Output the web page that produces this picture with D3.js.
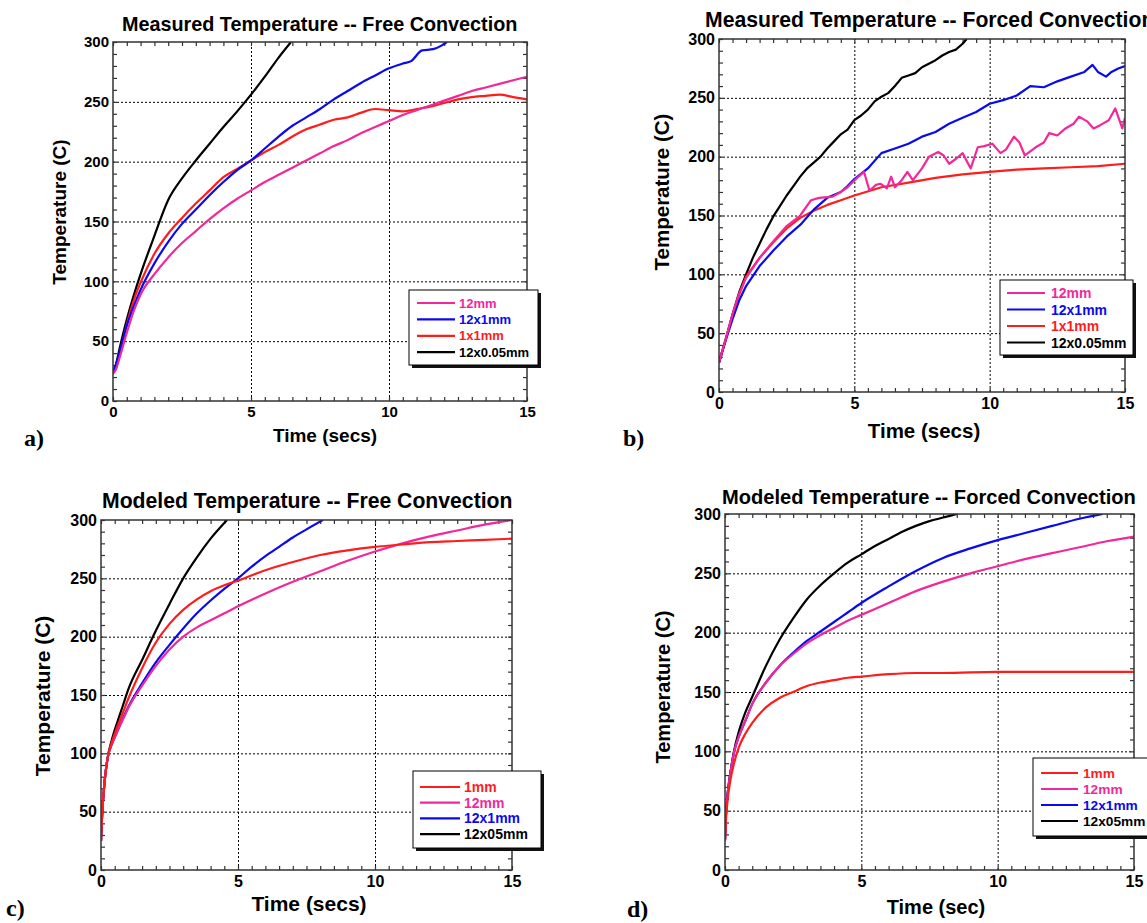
<!DOCTYPE html>
<html>
<head>
<meta charset="utf-8">
<script src="https://d3js.org/d3.v7.min.js"></script>
<style>
  body { margin: 0; background: #fff; }
  svg { display: block; }
  text { font-family: "Liberation Sans", Arial, sans-serif; font-weight: bold; }
</style>
</head>
<body>
<div id="chart"></div>
<script>
// ---- a) measured, free convection ----
var aPinkT = [0, 0.1, 0.25, 0.5, 0.75, 1, 1.5, 2, 2.5, 3, 3.5, 4, 4.5, 5, 5.5, 6, 6.5, 7, 7.5, 8, 8.5, 9, 9.5, 10, 10.5, 11, 11.5, 12, 12.5, 13, 13.5, 14, 14.5, 15]
var aPinkV = [23, 26, 37, 57, 75, 89, 106, 120, 132, 142, 152, 161, 169, 176, 183, 189, 195, 201, 207, 213, 218, 224, 229, 234, 239, 243, 247, 251, 255, 259, 262, 265, 268, 271]
var aBlueT = [0, 0.1, 0.25, 0.5, 0.75, 1, 1.5, 2, 2.5, 3, 3.5, 4, 4.5, 5, 5.5, 6, 6.5, 7, 7.5, 8, 8.5, 9, 9.5, 10, 10.5, 10.8, 11.2, 11.6, 11.9, 12.1]
var aBlueV = [25, 30, 42, 63, 79, 93, 115, 133, 148, 160, 172, 183, 193, 201, 211, 221, 230, 237, 244, 252, 259, 266, 272, 278, 282, 284, 293, 294, 297, 300]
var aRedT = [0, 0.1, 0.25, 0.5, 0.75, 1, 1.5, 2, 2.5, 3, 3.5, 4, 4.5, 5, 5.5, 6, 6.5, 7, 7.5, 8, 8.5, 9, 9.5, 10, 10.5, 11, 11.5, 12, 12.5, 13, 13.5, 14, 14.5, 15]
var aRedV = [23, 27, 40, 64, 84, 99, 123, 140, 153, 165, 176, 187, 194, 201, 208, 214, 221, 227, 231, 235, 237, 241, 244, 243, 242, 244, 246, 249, 252, 254, 255, 256, 254, 252]
var aBlackT = [0, 0.1, 0.25, 0.5, 0.75, 1, 1.5, 2, 2.5, 3, 3.5, 4, 4.5, 5, 5.5, 6, 6.45]
var aBlackV = [25, 30, 45, 68, 88, 106, 138, 168, 186, 201, 215, 229, 242, 256, 271, 287, 300]

// ---- b) measured, forced convection ----
var bPinkT = [0, 0.25, 0.5, 0.75, 1, 1.5, 2, 2.5, 3, 3.4, 3.7, 4.2, 4.5, 4.75, 5.1, 5.36, 5.56, 5.8, 5.96, 6.2, 6.36, 6.5, 6.75, 6.96, 7.16, 7.5, 7.76, 8.1, 8.3, 8.5, 8.75, 9.0, 9.3, 9.56, 9.8, 10.1, 10.4, 10.6, 10.9, 11.1, 11.3, 11.7, 12.0, 12.2, 12.5, 12.8, 13.1, 13.3, 13.6, 13.84, 14.1, 14.4, 14.64, 14.9, 15]
var bPinkV = [25, 45, 66, 84, 97, 114, 128, 141, 150, 163, 165, 166, 170, 174, 182, 187, 171, 176, 177, 173, 183, 174, 180, 187, 180, 190, 200, 204, 201, 194, 198, 203, 190, 208, 209, 211, 203, 206, 217, 212, 201, 208, 212, 220, 218, 224, 228, 234, 230, 224, 227, 231, 241, 224, 233]
var bBlueT = [0, 0.25, 0.5, 0.75, 1, 1.5, 2, 2.5, 3, 3.5, 4, 4.5, 4.75, 5, 5.5, 6, 6.5, 7, 7.5, 8, 8.5, 9, 9.5, 10, 10.5, 11, 11.5, 12, 12.5, 13, 13.5, 13.8, 14, 14.3, 14.5, 14.75, 15]
var bBlueV = [25, 44, 62, 78, 90, 107, 120, 132, 142, 155, 165, 170, 175, 181, 190, 203, 207, 211, 217, 221, 228, 233, 238, 245, 248, 252, 260, 259, 264, 268, 272, 278, 272, 268, 272, 275, 277]
var bRedT = [0, 0.25, 0.5, 0.75, 1, 1.5, 2, 2.5, 3, 3.5, 4, 4.5, 5, 6, 7, 8, 9, 10, 11, 12, 13, 14, 15]
var bRedV = [25, 45, 65, 83, 98, 114, 127, 139, 148, 154, 159, 163, 167, 174, 178, 182, 185, 187, 189, 190, 191, 192, 194]
var bBlackT = [0, 0.25, 0.5, 0.75, 1, 1.25, 1.5, 1.75, 2, 2.25, 2.5, 2.75, 3, 3.25, 3.5, 3.75, 4, 4.25, 4.5, 4.75, 5, 5.25, 5.5, 5.75, 6, 6.25, 6.5, 6.75, 7, 7.25, 7.5, 7.75, 8, 8.25, 8.5, 8.75, 9, 9.15]
var bBlackV = [25, 45, 66, 85, 100, 114, 126, 138, 149, 158, 167, 175, 183, 190, 195, 200, 207, 213, 219, 223, 231, 235, 240, 247, 251, 254, 260, 267, 269, 271, 276, 279, 282, 286, 289, 291, 296, 300]

// ---- c) modeled, free convection ----
var cRedT = [0, 0.03, 0.06, 0.1, 0.15, 0.25, 0.4, 0.6, 0.8, 1, 1.5, 2, 2.5, 3, 3.5, 4, 4.5, 5, 6, 7, 8, 9, 10, 11, 12, 13, 14, 15]
var cRedV = [25, 42, 55, 67, 80, 97, 110, 123, 135, 147, 173, 195, 211, 223, 232, 239, 244, 248, 257, 264, 270, 274, 277, 279, 281, 282, 283, 284]
var cPinkT = [0, 0.03, 0.06, 0.1, 0.15, 0.25, 0.4, 0.6, 0.8, 1, 1.5, 2, 2.5, 3, 3.5, 4, 4.5, 5, 6, 7, 8, 9, 10, 11, 12, 13, 14, 15]
var cPinkV = [25, 42, 55, 67, 80, 97, 108, 119, 129, 139, 158, 175, 189, 200, 208, 214, 220, 226, 237, 247, 256, 265, 273, 280, 286, 291, 296, 300]
var cBlueT = [0, 0.03, 0.06, 0.1, 0.15, 0.25, 0.4, 0.6, 0.8, 1, 1.5, 2, 2.5, 3, 3.5, 4, 4.5, 5, 5.5, 6, 6.5, 7, 7.5, 8.1]
var cBlueV = [25, 42, 55, 67, 80, 97, 108, 119, 130, 140, 160, 178, 193, 207, 220, 231, 241, 250, 260, 269, 277, 285, 292, 300]
var cBlackT = [0, 0.03, 0.06, 0.1, 0.15, 0.25, 0.4, 0.6, 0.8, 1, 1.5, 2, 2.5, 3, 3.5, 4, 4.6]
var cBlackV = [25, 42, 55, 67, 80, 97, 112, 127, 141, 155, 180, 205, 228, 250, 268, 284, 300]

// ---- d) modeled, forced convection ----
var dRedT = [0, 0.03, 0.06, 0.1, 0.2, 0.33, 0.5, 0.75, 1, 1.5, 2, 2.5, 3, 3.5, 4, 4.5, 5, 6, 7, 8, 10, 12, 15]
var dRedV = [25, 40, 50, 60, 76, 90, 103, 115, 124, 137, 145, 150, 155, 158, 160, 162, 163, 165, 166, 166, 167, 167, 167]
var dPinkT = [0, 0.03, 0.06, 0.1, 0.2, 0.33, 0.5, 0.75, 1, 1.5, 2, 2.5, 3, 3.5, 4, 4.5, 5, 6, 7, 8, 9, 10, 11, 12, 13, 14, 15]
var dPinkV = [25, 45, 55, 65, 82, 99, 112, 126, 140, 158, 172, 182, 191, 198, 204, 210, 215, 225, 235, 243, 250, 256, 262, 267, 272, 277, 281]
var dBlueT = [0, 0.03, 0.06, 0.1, 0.2, 0.33, 0.5, 0.75, 1, 1.5, 2, 2.5, 3, 3.5, 4, 4.5, 5, 6, 7, 8, 9, 10, 11, 12, 13, 13.85]
var dBlueV = [25, 45, 55, 65, 82, 99, 112, 126, 140, 158, 172, 183, 193, 201, 209, 217, 225, 239, 252, 263, 271, 278, 284, 290, 296, 300]
var dBlackT = [0, 0.03, 0.06, 0.1, 0.2, 0.33, 0.5, 0.75, 1, 1.5, 2, 2.5, 3, 3.5, 4, 4.5, 5, 5.5, 6, 6.5, 7, 7.5, 8, 8.5]
var dBlackV = [25, 45, 55, 65, 82, 100, 116, 133, 146, 172, 194, 212, 228, 240, 250, 259, 266, 273, 279, 285, 290, 294, 297, 300]

var xMajor = [0, 5, 10, 15]
var yMajor = [0, 50, 100, 150, 200, 250, 300]

var PINK = '#f2289a', BLUE = '#0a0aee', RED = '#ff1c1c', BLACK = '#000'

function pairs(t, v) {
    return t.map(function(d, i) { return [d, v[i]]; });
}

var svg = d3.select('#chart').append('svg')
    .attr('width', 1147)
    .attr('height', 923);

function drawPanel(p) {
    var x = d3.scaleLinear().domain([0, 15]).range([p.left, p.right]),
        y = d3.scaleLinear().domain([0, 300]).range([p.bottom, p.top]);
    var w = p.right - p.left,
        h = p.bottom - p.top;
    var g = svg.append('g');

    // dotted grid at the major ticks
    g.append('g')
        .attr('transform', 'translate(0,' + p.bottom + ')')
        .call(d3.axisBottom(x).tickValues([5, 10]).tickSize(-h).tickFormat(''))
        .call(function(s) { s.select('.domain').remove(); })
        .selectAll('line').attr('stroke', '#000').attr('stroke-dasharray', '2,2');
    g.append('g')
        .attr('transform', 'translate(' + p.left + ',0)')
        .call(d3.axisLeft(y).tickValues([50, 100, 150, 200, 250]).tickSize(-w).tickFormat(''))
        .call(function(s) { s.select('.domain').remove(); })
        .selectAll('line').attr('stroke', '#000').attr('stroke-dasharray', '2,2');

    // minor ticks, inward, on all four sides
    var xMinor = d3.range(0, 15.001, 0.5),
        yMinor = d3.range(0, 300.001, 10);
    var sides = [
        [d3.axisBottom(x).tickValues(xMinor), 'translate(0,' + p.bottom + ')'],
        [d3.axisTop(x).tickValues(xMinor), 'translate(0,' + p.top + ')'],
        [d3.axisLeft(y).tickValues(yMinor), 'translate(' + p.left + ',0)'],
        [d3.axisRight(y).tickValues(yMinor), 'translate(' + p.right + ',0)']
    ];
    sides.forEach(function(s) {
        g.append('g')
            .attr('transform', s[1])
            .call(s[0].tickSize(-4).tickFormat(''))
            .call(function(a) { a.select('.domain').remove(); })
            .selectAll('line').attr('stroke', '#333').attr('stroke-width', 1.2);
    });

    // curves
    var clipId = 'clip-' + p.name;
    svg.append('clipPath').attr('id', clipId)
        .append('rect').attr('x', p.left).attr('y', p.top).attr('width', w).attr('height', h);
    var line = d3.line()
        .x(function(d) { return x(d[0]); })
        .y(function(d) { return y(d[1]); })
        .curve(p.smooth ? d3.curveMonotoneX : d3.curveLinear);
    var drawOrder = p.series.slice().reverse();
    g.append('g').attr('clip-path', 'url(#' + clipId + ')')
        .selectAll('path').data(drawOrder).enter().append('path')
        .attr('d', function(s) { return line(pairs(s.t, s.v)); })
        .attr('fill', 'none')
        .attr('stroke', function(s) { return s.color; })
        .attr('stroke-width', 2.2)
        .attr('stroke-linejoin', 'round');

    // frame
    g.append('rect')
        .attr('x', p.left).attr('y', p.top).attr('width', w).attr('height', h)
        .attr('fill', 'none').attr('stroke', '#333').attr('stroke-width', 1.5);

    // tick labels
    var xl = g.append('g')
        .attr('transform', 'translate(0,' + p.bottom + ')')
        .call(d3.axisBottom(x).tickValues(xMajor).tickSize(0).tickPadding(p.tick * 0.35));
    xl.select('.domain').remove();
    xl.selectAll('text').attr('font-size', p.tick).attr('fill', '#000')
        .attr('font-family', '"Liberation Sans", Arial, sans-serif').attr('font-weight', 'bold');
    var yl = g.append('g')
        .attr('transform', 'translate(' + p.left + ',0)')
        .call(d3.axisLeft(y).tickValues(yMajor).tickSize(0).tickPadding(4));
    yl.select('.domain').remove();
    yl.selectAll('text').attr('font-size', p.tick).attr('fill', '#000')
        .attr('font-family', '"Liberation Sans", Arial, sans-serif').attr('font-weight', 'bold');

    // titles
    g.append('text').attr('x', p.titleX).attr('y', p.titleY)
        .attr('font-size', p.titleSize).text(p.title);
    g.append('text').attr('x', p.xTitleX).attr('y', p.xTitleY)
        .attr('text-anchor', 'middle').attr('font-size', p.axisSize).text(p.xTitle);
    g.append('text')
        .attr('transform', 'translate(' + p.yTitleX + ',' + p.yTitleY + ') rotate(-90)')
        .attr('dy', '0.35em')
        .attr('text-anchor', 'middle').attr('font-size', p.axisSize).text('Temperature (C)');
    g.append('text').attr('x', p.labX).attr('y', p.labY)
        .style('font-family', '"Liberation Serif", "Times New Roman", serif')
        .attr('font-size', 24).text(p.name + ')');

    // legend with drop shadow
    var L = p.legend;
    g.append('rect').attr('x', L.x + 3).attr('y', L.y + 3).attr('width', L.w).attr('height', L.h)
        .attr('fill', '#111');
    g.append('rect').attr('x', L.x).attr('y', L.y).attr('width', L.w).attr('height', L.h)
        .attr('fill', '#fff').attr('stroke', '#000').attr('stroke-width', 1);
    var rows = g.selectAll('g.leg').data(p.series).enter().append('g')
        .attr('transform', function(d, i) { return 'translate(0,' + (L.row0 + i * L.step) + ')'; });
    rows.append('line')
        .attr('x1', L.lx1).attr('x2', L.lx2)
        .attr('stroke', function(s) { return s.color; }).attr('stroke-width', 2.2);
    rows.append('text')
        .attr('x', L.tx).attr('dy', '0.36em')
        .attr('font-size', L.size)
        .attr('fill', function(s) { return s.color; })
        .text(function(s) { return s.label; });
}

var measured = function(pt, pv, bt, bv, rt, rv, kt, kv) {
    return [
        { label: '12mm', color: PINK, t: pt, v: pv },
        { label: '12x1mm', color: BLUE, t: bt, v: bv },
        { label: '1x1mm', color: RED, t: rt, v: rv },
        { label: '12x0.05mm', color: BLACK, t: kt, v: kv }
    ];
};
var modeled = function(rt, rv, pt, pv, bt, bv, kt, kv) {
    return [
        { label: '1mm', color: RED, t: rt, v: rv },
        { label: '12mm', color: PINK, t: pt, v: pv },
        { label: '12x1mm', color: BLUE, t: bt, v: bv },
        { label: '12x05mm', color: BLACK, t: kt, v: kv }
    ];
};

drawPanel({
    name: 'a', left: 113, right: 527, top: 42, bottom: 401, smooth: true,
    title: 'Measured Temperature -- Free Convection', titleX: 122, titleY: 31, titleSize: 19.8,
    xTitle: 'Time (secs)', xTitleX: 325, xTitleY: 442, yTitleX: 59, yTitleY: 212,
    axisSize: 19, tick: 15, labX: 24, labY: 446,
    series: measured(aPinkT, aPinkV, aBlueT, aBlueV, aRedT, aRedV, aBlackT, aBlackV),
    legend: { x: 409, y: 290, w: 129, h: 75, row0: 303, step: 16.4, lx1: 417, lx2: 455, tx: 459, size: 13 }
});

drawPanel({
    name: 'b', left: 719, right: 1125, top: 39, bottom: 392, smooth: false,
    title: 'Measured Temperature -- Forced Convection', titleX: 705, titleY: 27, titleSize: 21.2,
    xTitle: 'Time (secs)', xTitleX: 924, xTitleY: 438, yTitleX: 662, yTitleY: 192,
    axisSize: 20.5, tick: 16, labX: 623, labY: 446,
    series: measured(bPinkT, bPinkV, bBlueT, bBlueV, bRedT, bRedV, bBlackT, bBlackV),
    legend: { x: 1000, y: 280, w: 133, h: 75, row0: 293, step: 16.5, lx1: 1007, lx2: 1045, tx: 1051, size: 14 }
});

drawPanel({
    name: 'c', left: 101, right: 512, top: 520, bottom: 870, smooth: true,
    title: 'Modeled Temperature -- Free Convection', titleX: 102, titleY: 508, titleSize: 21.2,
    xTitle: 'Time (secs)', xTitleX: 309, xTitleY: 911, yTitleX: 43, yTitleY: 696,
    axisSize: 21, tick: 16, labX: 6, labY: 916,
    series: modeled(cRedT, cRedV, cPinkT, cPinkV, cBlueT, cBlueV, cBlackT, cBlackV),
    legend: { x: 413, y: 771, w: 128, h: 77, row0: 787, step: 15.7, lx1: 420, lx2: 460, tx: 464, size: 14 }
});

drawPanel({
    name: 'd', left: 725, right: 1134, top: 514, bottom: 870, smooth: true,
    title: 'Modeled Temperature -- Forced Convection', titleX: 722, titleY: 504, titleSize: 20.1,
    xTitle: 'Time (sec)', xTitleX: 936, xTitleY: 914, yTitleX: 663, yTitleY: 687,
    axisSize: 20, tick: 16, labX: 627, labY: 917,
    series: modeled(dRedT, dRedV, dPinkT, dPinkV, dBlueT, dBlueV, dBlackT, dBlackV),
    legend: { x: 1033, y: 758, w: 125, h: 78, row0: 773, step: 16, lx1: 1041, lx2: 1078, tx: 1083, size: 13.7 }
});
</script>
</body>
</html>
